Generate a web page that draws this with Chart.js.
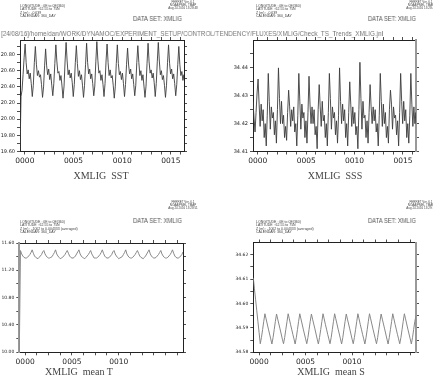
<!DOCTYPE html>
<html>
<head>
<meta charset="utf-8">
<script src="https://cdn.jsdelivr.net/npm/chart.js@4.4.1/dist/chart.umd.min.js"></script>
<style>
    body { margin: 0; background: #fff; width: 433px; height: 382px; position: relative; overflow: hidden; }
    canvas { position: absolute; }
    .txt { position: absolute; white-space: pre; transform-origin: left top; font-family: "Liberation Sans", sans-serif; will-change: transform; }
    .hdr { font-size: 3.5px; line-height: 3.3px; color: #444; }
    .fer { font-size: 3px; line-height: 3px; color: #444; text-align: center; width: 50px; }
    .ds { font-size: 6.4px; color: #555; }
    .path { font-size: 8px; color: #777; }
    .title { font-family: "Liberation Serif", serif; font-size: 10px; color: #444; text-align: center; width: 200px; }
</style>
</head>
<body>

<div class="txt path" style="left:1px;top:29px" data-w="382">[24/08/16]/home/dan/WORK/DYNAMOC/EXPERIMENT_SETUP/CONTROL/TENDENCY/FLUXES/XMLIG/Check_TS_Trends_XMLIG.jnl</div>

<div class="txt hdr" style="left:20px;top:4.5px">LONGITUDE : 0E to 0E(360)
LATITUDE : 62.55 to 75N
Z (m) : -0.639
CALENDAR: 360_DAY</div>
<div class="txt fer" style="left:158px;top:1px">FERRET Ver. 6.1
NOAA/PMEL TMAP
Aug 24 2016 13:28:48</div>
<div class="txt ds" style="left:133px;top:15px" data-w="49">DATA SET: XMLIG</div>

<div class="txt hdr" style="left:256px;top:4.5px">LONGITUDE : 0E to 0E(360)
LATITUDE : 62.55 to 75N
Z (m) : -0.639
CALENDAR: 360_DAY</div>
<div class="txt fer" style="left:396px;top:1px">FERRET Ver. 6.1
NOAA/PMEL TMAP
Aug 24 2016 13:28:49</div>
<div class="txt ds" style="left:368px;top:15px" data-w="48">DATA SET: XMLIG</div>

<div class="txt hdr" style="left:20px;top:221px">LONGITUDE : 0E to 0E(360)
LATITUDE : 62.55 to 75N
Z (m) : -1002 to 0.004333 (averaged)
CALENDAR: 360_DAY</div>
<div class="txt fer" style="left:158px;top:200.5px">FERRET Ver. 6.1
NOAA/PMEL TMAP
Aug 24 2016 13:28:51</div>
<div class="txt ds" style="left:133px;top:217px" data-w="49">DATA SET: XMLIG</div>

<div class="txt hdr" style="left:256px;top:221px">LONGITUDE : 0E to 0E(360)
LATITUDE : 62.55 to 75N
Z (m) : -1002 to 0.004333 (averaged)
CALENDAR: 360_DAY</div>
<div class="txt fer" style="left:396px;top:200.5px">FERRET Ver. 6.1
NOAA/PMEL TMAP
Aug 24 2016 13:29:12</div>
<div class="txt ds" style="left:368px;top:217px" data-w="48">DATA SET: XMLIG</div>

<div class="txt title" style="left:1px;top:170px">XMLIG  SST</div>
<div class="txt title" style="left:235px;top:170px">XMLIG  SSS</div>
<div class="txt title" style="left:-21px;top:366px">XMLIG  mean T</div>
<div class="txt title" style="left:231px;top:366px">XMLIG  mean S</div>

<canvas id="sstChart"></canvas>
<canvas id="sssChart"></canvas>
<canvas id="meanTChart"></canvas>
<canvas id="meanSChart"></canvas>

<script>
// Check_TS_Trends_XMLIG - four Ferret style panels

// top panels: 10 samples per seasonal cycle (a bit longer than a year on this axis)
const topStartYear = -0.5;
const topSamplesPerYear = 9.5;

const sstValues = [
    19.58, 20.28, 20.36, 20.55, 20.76,
    20.93, 20.70, 20.56, 20.61, 20.50, 20.57, 20.44, 20.28, 20.42, 20.70,
    20.90, 20.68, 20.54, 20.60, 20.52, 20.55, 20.43, 20.27, 20.40, 20.66,
    20.87, 20.66, 20.55, 20.62, 20.49, 20.56, 20.42, 20.29, 20.44, 20.69,
    20.92, 20.71, 20.57, 20.59, 20.48, 20.54, 20.41, 20.26, 20.41, 20.72,
    20.95, 20.72, 20.55, 20.61, 20.51, 20.57, 20.45, 20.28, 20.43, 20.70,
    20.91, 20.69, 20.53, 20.60, 20.49, 20.55, 20.42, 20.27, 20.42, 20.68,
    20.94, 20.70, 20.56, 20.62, 20.50, 20.56, 20.44, 20.29, 20.41, 20.71,
    20.96, 20.73, 20.57, 20.60, 20.48, 20.55, 20.43, 20.28, 20.44, 20.72,
    20.93, 20.70, 20.54, 20.61, 20.51, 20.54, 20.42, 20.26, 20.40, 20.69,
    20.92, 20.69, 20.55, 20.59, 20.49, 20.57, 20.44, 20.28, 20.43, 20.68,
    20.88, 20.67, 20.56, 20.62, 20.50, 20.56, 20.43, 20.29, 20.42, 20.70,
    20.91, 20.70, 20.54, 20.60, 20.48, 20.55, 20.41, 20.27, 20.41, 20.69,
    20.94, 20.71, 20.57, 20.61, 20.51, 20.57, 20.45, 20.28, 20.44, 20.71,
    20.95, 20.72, 20.55, 20.60, 20.49, 20.54, 20.42, 20.27, 20.42, 20.70,
    20.92, 20.69, 20.56, 20.62, 20.50, 20.56, 20.44, 20.29, 20.43, 20.68,
    20.90, 20.68, 20.54, 20.59, 20.48, 20.55, 20.42
];

const sssValues = [
    34.428, 34.422, 34.417, 34.424, 34.431,
    34.436, 34.427, 34.419, 34.427, 34.421, 34.425, 34.415, 34.420, 34.412, 34.423,
    34.438, 34.428, 34.418, 34.426, 34.422, 34.424, 34.416, 34.421, 34.413, 34.425,
    34.440, 34.429, 34.420, 34.428, 34.420, 34.423, 34.415, 34.419, 34.414, 34.424,
    34.432, 34.426, 34.419, 34.425, 34.421, 34.426, 34.417, 34.420, 34.412, 34.423,
    34.438, 34.428, 34.418, 34.427, 34.422, 34.424, 34.415, 34.421, 34.413, 34.424,
    34.437, 34.427, 34.420, 34.426, 34.420, 34.425, 34.416, 34.419, 34.411, 34.425,
    34.434, 34.426, 34.419, 34.428, 34.421, 34.423, 34.415, 34.420, 34.412, 34.424,
    34.438, 34.429, 34.418, 34.426, 34.422, 34.424, 34.416, 34.421, 34.413, 34.423,
    34.440, 34.428, 34.420, 34.427, 34.421, 34.425, 34.415, 34.420, 34.412, 34.424,
    34.435, 34.427, 34.419, 34.426, 34.420, 34.424, 34.416, 34.419, 34.411, 34.425,
    34.442, 34.429, 34.418, 34.428, 34.422, 34.423, 34.415, 34.421, 34.413, 34.424,
    34.434, 34.426, 34.420, 34.426, 34.421, 34.425, 34.417, 34.420, 34.412, 34.423,
    34.438, 34.428, 34.419, 34.427, 34.420, 34.424, 34.415, 34.419, 34.413, 34.425,
    34.432, 34.427, 34.418, 34.426, 34.422, 34.423, 34.416, 34.421, 34.412, 34.424,
    34.438, 34.428, 34.420, 34.428, 34.421, 34.425, 34.415, 34.420, 34.413, 34.423,
    34.438, 34.427, 34.419, 34.426, 34.420, 34.424, 34.416
];

// bottom panels: 10 samples per cycle, first sample at 0
const bottomStartYear = 0;
const bottomSamplesPerYear = 10;

const meanTValues = [
    10.00,
    11.49, 11.44, 11.41, 11.39, 11.38, 11.38, 11.39, 11.41, 11.43, 11.46,
    11.50, 11.45, 11.41, 11.39, 11.38, 11.37, 11.39, 11.41, 11.43, 11.47,
    11.49, 11.44, 11.41, 11.39, 11.38, 11.38, 11.39, 11.40, 11.43, 11.46,
    11.50, 11.44, 11.41, 11.39, 11.37, 11.38, 11.39, 11.41, 11.43, 11.46,
    11.49, 11.45, 11.41, 11.39, 11.38, 11.38, 11.39, 11.41, 11.44, 11.47,
    11.50, 11.44, 11.41, 11.39, 11.38, 11.37, 11.39, 11.41, 11.43, 11.46,
    11.49, 11.44, 11.41, 11.38, 11.38, 11.38, 11.39, 11.41, 11.43, 11.46,
    11.50, 11.45, 11.41, 11.39, 11.38, 11.38, 11.39, 11.41, 11.43, 11.47,
    11.49, 11.44, 11.41, 11.39, 11.37, 11.38, 11.39, 11.40, 11.43, 11.46,
    11.50, 11.44, 11.41, 11.39, 11.38, 11.38, 11.39, 11.41, 11.43, 11.46,
    11.49, 11.45, 11.41, 11.39, 11.38, 11.37, 11.39, 11.41, 11.44, 11.47,
    11.50, 11.44, 11.41, 11.39, 11.38, 11.38, 11.39, 11.41, 11.43, 11.46,
    11.49, 11.44, 11.41, 11.39, 11.38, 11.38, 11.39, 11.41, 11.43, 11.46,
    11.50, 11.45, 11.41, 11.39, 11.38, 11.38, 11.39, 11.41, 11.43, 11.47
];

const meanSValues = [
    34.6105, 34.6060, 34.6015, 34.5970, 34.5925, 34.5880, 34.5835, 34.5860, 34.5893, 34.5927,
    34.5958, 34.5937, 34.5916, 34.5895, 34.5875, 34.5855, 34.5834, 34.5860, 34.5893, 34.5927,
    34.5957, 34.5936, 34.5916, 34.5896, 34.5875, 34.5854, 34.5835, 34.5861, 34.5894, 34.5926,
    34.5958, 34.5937, 34.5915, 34.5895, 34.5874, 34.5855, 34.5834, 34.5860, 34.5893, 34.5927,
    34.5958, 34.5937, 34.5916, 34.5895, 34.5875, 34.5855, 34.5835, 34.5860, 34.5894, 34.5927,
    34.5957, 34.5936, 34.5916, 34.5896, 34.5875, 34.5854, 34.5834, 34.5861, 34.5893, 34.5926,
    34.5958, 34.5937, 34.5915, 34.5895, 34.5874, 34.5855, 34.5835, 34.5860, 34.5893, 34.5927,
    34.5958, 34.5937, 34.5916, 34.5895, 34.5875, 34.5855, 34.5834, 34.5860, 34.5894, 34.5927,
    34.5957, 34.5936, 34.5916, 34.5896, 34.5875, 34.5854, 34.5835, 34.5861, 34.5893, 34.5926,
    34.5958, 34.5937, 34.5915, 34.5895, 34.5874, 34.5855, 34.5834, 34.5860, 34.5893, 34.5927,
    34.5958, 34.5937, 34.5916, 34.5895, 34.5875, 34.5855, 34.5835, 34.5860, 34.5894, 34.5927,
    34.5957, 34.5936, 34.5916, 34.5896, 34.5875, 34.5854, 34.5834, 34.5861, 34.5893, 34.5926,
    34.5958, 34.5937, 34.5915, 34.5895, 34.5874, 34.5855, 34.5835, 34.5860, 34.5893, 34.5927,
    34.5958, 34.5937, 34.5916, 34.5895, 34.5875, 34.5855, 34.5834, 34.5860, 34.5894, 34.5927,
    34.5950
];

// axis ticks and labels
const topXTicks = [0, 1, 2, 3, 4, 5, 6, 7, 8, 9, 10, 11, 12, 13, 14, 15, 16];
const topXLabelYears = [0, 5, 10, 15];
const topXLabels = ['0000', '0005', '0010', '0015'];

const bottomXTicks = [0.5, 1.5, 2.5, 3.5, 4.5, 5.5, 6.5, 7.5, 8.5, 9.5, 10.5, 11.5, 12.5, 13.5];
const bottomXLabelYears = [0.5, 4.5, 8.5];
const bottomXLabels = ['0000', '0005', '0010'];

const sstYMajor = [19.6, 19.8, 20.0, 20.2, 20.4, 20.6, 20.8];
const sstYMinor = [19.7, 19.9, 20.1, 20.3, 20.5, 20.7, 20.9];
const sssYMajor = [34.41, 34.42, 34.43, 34.44];
const sssYMinor = [34.415, 34.425, 34.435, 34.445];
const meanTYMajor = [10.0, 10.4, 10.8, 11.2, 11.6];
const meanTYMinor = [10.2, 10.6, 11.0, 11.4];
const meanSYMajor = [34.58, 34.59, 34.60, 34.61, 34.62];
const meanSYMinor = [34.585, 34.595, 34.605, 34.615];

function toPoints(values, start, perYear) {
    return values.map((v, i) => ({ x: start + i / perYear, y: v }));
}

function labelFor(years, labels) {
    return (value) => {
        const k = years.findIndex(y => Math.abs(y - value) < 1e-6);
        return k >= 0 ? labels[k] : '';
    };
}

function axis(position, min, max, ticks, size, opts = {}) {
    const vertical = position === 'left' || position === 'right';
    return {
        type: 'linear',
        position: position,
        min: min,
        max: max,
        afterBuildTicks: (scale) => { scale.ticks = ticks.map(v => ({ value: v })); },
        afterFit: (scale) => {
            if (vertical) scale.width = size; else scale.height = size;
        },
        grid: { drawOnChartArea: false, drawTicks: true, tickLength: 3, color: '#222', lineWidth: 0.8 },
        border: { display: true, color: opts.borderColor || '#222', width: opts.borderWidth || 1 },
        ticks: {
            display: !!opts.callback,
            callback: opts.callback || (() => ''),
            autoSkip: false,
            maxRotation: 0,
            minRotation: 0,
            padding: opts.padding || 2,
            color: '#222',
            font: { family: 'DejaVu Sans', size: opts.fontSize || 5 }
        }
    };
}

// area = plot box in page pixels
function makePanel(id, cfg) {
    const canvas = document.getElementById(id);
    const a = cfg.area;
    const padL = 24, padT = 6, padR = 10, padB = 20;
    const left = Math.round(a.left - padL);
    const top = Math.round(a.top - padT);
    const width = Math.round(a.right + padR) - left;
    const height = Math.round(a.bottom + padB) - top;
    canvas.width = width;
    canvas.height = height;
    canvas.style.left = left + 'px';
    canvas.style.top = top + 'px';
    const yW = a.left - left;
    const y2W = left + width - a.right;
    const x2H = a.top - top;
    const xH = top + height - a.bottom;

    const yTicks = cfg.yMajor.concat(cfg.yMinor).sort((p, q) => p - q);
    const yLabel = (v) => cfg.yMajor.some(m => Math.abs(m - v) < 1e-9) ? v.toFixed(2) : '';

    return new Chart(canvas, {
        type: 'line',
        data: {
            datasets: [{
                data: cfg.points,
                borderColor: cfg.color,
                borderWidth: cfg.lineWidth,
                pointRadius: 0,
                fill: false,
                tension: 0
            }]
        },
        options: {
            responsive: false,
            animation: false,
            events: [],
            layout: { padding: 0 },
            plugins: { legend: { display: false }, tooltip: { enabled: false } },
            scales: {
                x: axis('bottom', cfg.xMin, cfg.xMax, cfg.xTicks, xH,
                    { callback: labelFor(cfg.xLabelYears, cfg.xLabels), fontSize: 7.5, padding: 2 }),
                x2: axis('top', cfg.xMin, cfg.xMax, cfg.xTicks, x2H),
                y: axis('left', cfg.yMin, cfg.yMax, yTicks, yW,
                    { callback: yLabel, fontSize: cfg.yFont, borderColor: cfg.leftBorder, borderWidth: cfg.leftBorderWidth }),
                y2: axis('right', cfg.yMin, cfg.yMax, yTicks, y2W,
                    { borderColor: cfg.rightBorder, borderWidth: cfg.rightBorderWidth })
            }
        }
    });
}

makePanel('sstChart', {
    area: { left: 20, top: 40, right: 184, bottom: 151.5 },
    points: toPoints(sstValues, topStartYear, topSamplesPerYear),
    color: '#3c3c3c', lineWidth: 0.9,
    xMin: -0.5, xMax: 16.35, xTicks: topXTicks, xLabelYears: topXLabelYears, xLabels: topXLabels,
    yMin: 19.6, yMax: 20.98, yMajor: sstYMajor, yMinor: sstYMinor, yFont: 5
});

makePanel('sssChart', {
    area: { left: 253, top: 40, right: 416, bottom: 151.5 },
    points: toPoints(sssValues, topStartYear, topSamplesPerYear),
    color: '#3c3c3c', lineWidth: 0.9,
    xMin: -0.5, xMax: 16.35, xTicks: topXTicks, xLabelYears: topXLabelYears, xLabels: topXLabels,
    yMin: 34.41, yMax: 34.45, yMajor: sssYMajor, yMinor: sssYMinor, yFont: 5,
    rightBorder: '#999', rightBorderWidth: 2
});

makePanel('meanTChart', {
    area: { left: 19.3, top: 243, right: 183, bottom: 352.3 },
    points: toPoints(meanTValues, bottomStartYear, bottomSamplesPerYear),
    color: '#888', lineWidth: 1,
    xMin: 0, xMax: 14, xTicks: bottomXTicks, xLabelYears: bottomXLabelYears, xLabels: bottomXLabels,
    yMin: 10.0, yMax: 11.6, yMajor: meanTYMajor, yMinor: meanTYMinor, yFont: 4.5,
    leftBorder: '#999', leftBorderWidth: 2
});

makePanel('meanSChart', {
    area: { left: 253.3, top: 242.5, right: 416, bottom: 352.3 },
    points: toPoints(meanSValues, bottomStartYear, bottomSamplesPerYear),
    color: '#888', lineWidth: 1,
    xMin: 0, xMax: 14, xTicks: bottomXTicks, xLabelYears: bottomXLabelYears, xLabels: bottomXLabels,
    yMin: 34.58, yMax: 34.625, yMajor: meanSYMajor, yMinor: meanSYMinor, yFont: 4.5,
    rightBorder: '#999', rightBorderWidth: 2
});

// squeeze the header texts to the widths seen in the plot
document.querySelectorAll('[data-w]').forEach(el => {
    const w = el.getBoundingClientRect().width;
    if (w > 0) el.style.transform = `scaleX(${el.dataset.w / w})`;
});
</script>
</body>
</html>
